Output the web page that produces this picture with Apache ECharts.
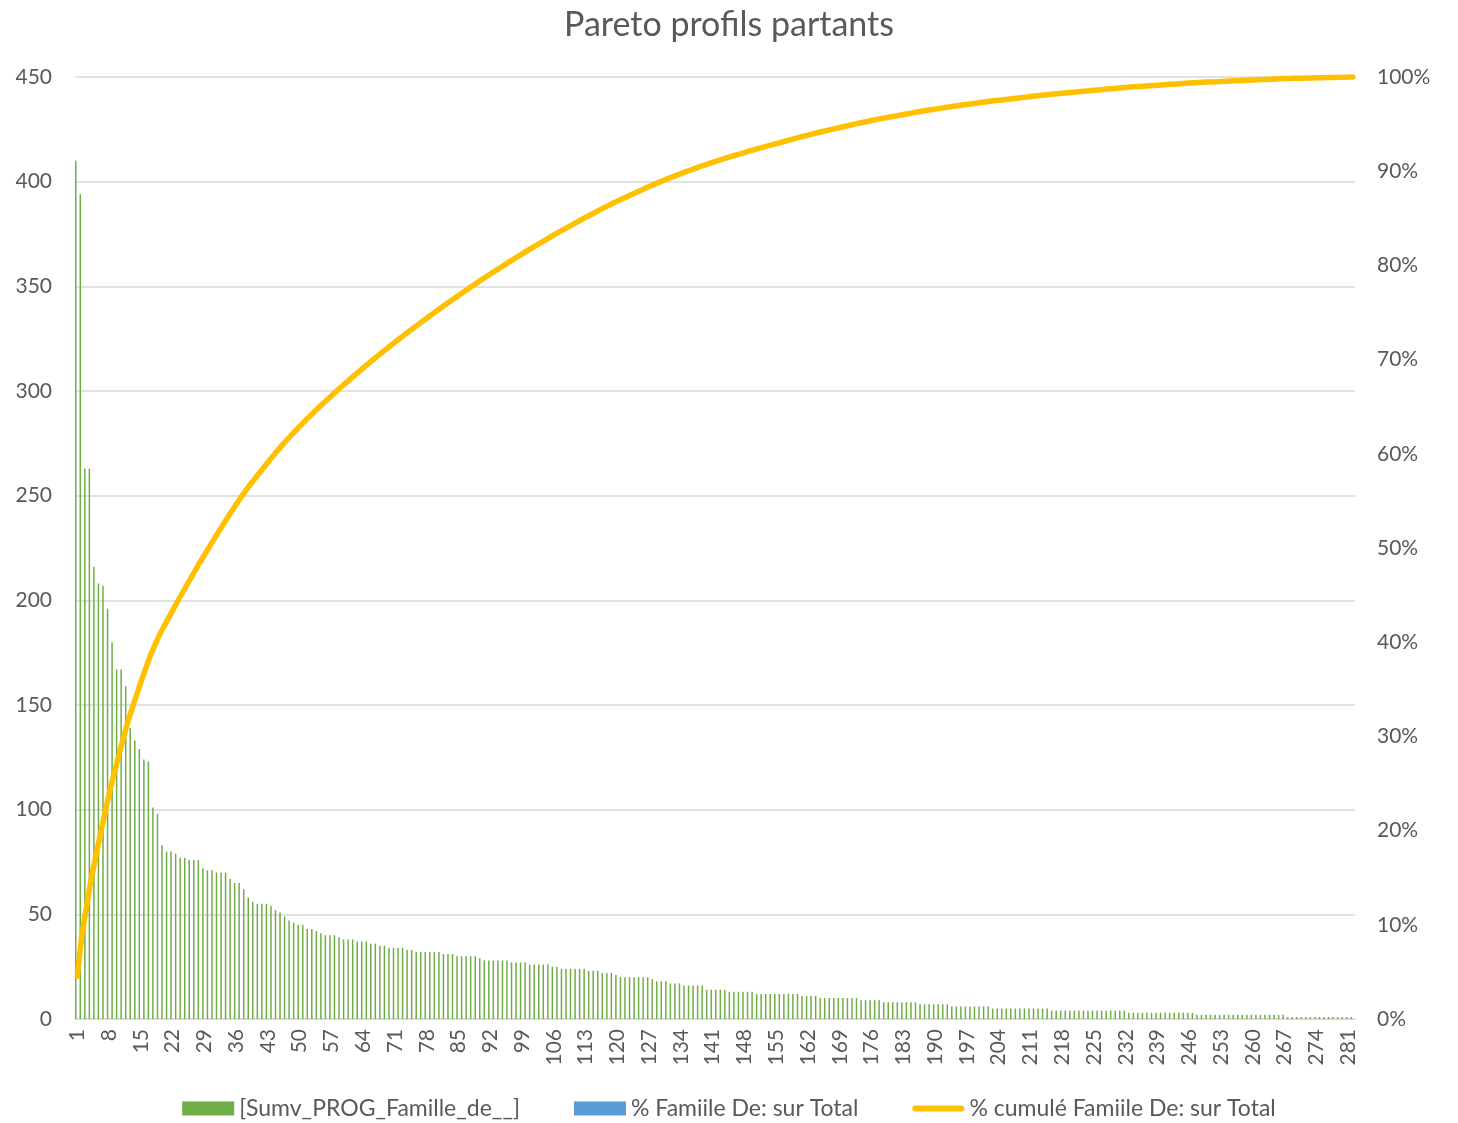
<!DOCTYPE html>
<html>
<head>
<meta charset="utf-8">
<title>Pareto profils partants</title>
<script src="https://cdn.jsdelivr.net/npm/echarts@6/dist/echarts.min.js"></script>
<style>
    html, body { margin: 0; padding: 0; background: #fff; }
    #chart { width: 1458px; height: 1123px; }
</style>
</head>
<body>
<div id="chart"></div>
<script>
// number of profiles (one bar each)
var sumProg = [
    410, 394, 263, 263, 216, 208, 207, 196, 180, 167, 167, 159, 139, 133, 129, 124, 123,
    101, 98, 83, 80, 80, 79, 77, 77, 76, 76, 76, 72, 71, 71, 70, 70, 70, 67, 65, 65, 62, 58, 56, 55,
    55, 55, 54, 52, 51, 49, 47, 46, 45, 45, 43, 43, 42, 41, 40, 40, 40, 39, 38, 38,
    38, 37, 37, 37, 36, 36, 35, 35, 34, 34, 34, 34, 33, 33, 32, 32, 32, 32, 32, 32,
    31, 31, 31, 30, 30, 30, 30, 30, 29, 28, 28, 28, 28,
    28, 28, 27, 27, 27, 27,
    26, 26, 26, 26, 26, 25, 25,
    24, 24, 24, 24, 24, 24, 23, 23, 23,
    22, 22, 22, 21,
    20, 20, 20, 20, 20, 20, 20, 19,
    18, 18, 18, 17, 17, 17,
    16, 16, 16, 16, 16, 14, 14, 14, 14, 14,
    13, 13, 13, 13, 13, 13,
    12, 12, 12, 12, 12, 12, 12, 12, 12, 12,
    11, 11, 11, 11,
    10, 10, 10, 10, 10, 10, 10, 10, 10,
    9, 9, 9, 9, 9,
    8, 8, 8, 8, 8, 8, 8, 8,
    7, 7, 7, 7, 7, 7, 7,
    6, 6, 6, 6, 6, 6, 6, 6, 6,
    5, 5, 5, 5, 5, 5, 5, 5, 5, 5, 5, 5, 5,
    4, 4, 4, 4, 4, 4, 4, 4, 4, 4, 4, 4, 4, 4, 4, 4, 4,
    3, 3, 3, 3, 3, 3, 3, 3, 3, 3, 3, 3, 3, 3, 3,
    2, 2, 2, 2, 2, 2, 2, 2, 2, 2, 2, 2, 2, 2, 2, 2, 2, 2, 2, 2,
    1, 1, 1, 1, 1, 1, 1, 1, 1, 1, 1, 1, 1, 1, 1
]

var categories = sumProg.map(function (v, i) { return String(i + 1) })

var leftTicks = { min: 0, max: 450, interval: 50 }
var rightTicks = { min: 0, max: 1, interval: 0.1 }

var seriesNames = ['[Sumv_PROG_Famille_de__]', '% Famiile De: sur Total', '% cumulé Famiile De: sur Total']

// pareto: share of total and running share
var total = sumProg.reduce(function (a, b) { return a + b }, 0)
var pctOfTotal = sumProg.map(function (v) { return v / total })
var cumulPct = []
var running = 0
sumProg.forEach(function (v) {
    running += v
    cumulPct.push(running / total)
})

var font = 'Lato, "Open Sans", sans-serif'
var grey = '#595959'

var myChart = echarts.init(document.getElementById('chart'))
var option = {
    animation: false,
    textStyle: { fontFamily: font },
    title: {
        text: 'Pareto profils partants',
        left: 'center',
        top: 3,
        textStyle: { fontFamily: font, fontSize: 34, fontWeight: 'normal', color: grey }
    },
    legend: {
        left: 'center',
        top: 1092,
        itemWidth: 52,
        itemHeight: 14,
        itemGap: 54,
        textStyle: { fontFamily: font, fontSize: 23, color: grey },
        data: [
            { name: seriesNames[0], icon: 'rect' },
            { name: seriesNames[1], icon: 'rect' },
            { name: seriesNames[2], icon: 'path://M3,0 L49,0 A3,3 0 0 1 49,6 L3,6 A3,3 0 0 1 3,0 Z' }
        ]
    },
    grid: { left: 75, right: 103, top: 77, bottom: 104, containLabel: false },
    xAxis: {
        type: 'category',
        data: categories,
        boundaryGap: true,
        axisLine: { show: true, lineStyle: { color: '#D9D9D9', width: 1.5 } },
        axisTick: { show: false },
        axisLabel: {
            interval: 6,
            rotate: 90,
            margin: 10,
            fontSize: 21,
            color: grey,
            fontFamily: font
        }
    },
    yAxis: [
        {
            type: 'value',
            min: leftTicks.min,
            max: leftTicks.max,
            interval: leftTicks.interval,
            axisLine: { show: false },
            axisTick: { show: false },
            splitLine: { lineStyle: { color: '#D9D9D9', width: 1.5 } },
            axisLabel: { fontSize: 21, color: grey, margin: 23, fontFamily: font }
        },
        {
            type: 'value',
            min: rightTicks.min,
            max: rightTicks.max,
            interval: rightTicks.interval,
            axisLine: { show: false },
            axisTick: { show: false },
            splitLine: { show: false },
            axisLabel: {
                fontSize: 21,
                color: grey,
                margin: 22,
                fontFamily: font,
                formatter: function (v) { return Math.round(v * 100) + '%' }
            }
        }
    ],
    series: [
        {
            name: seriesNames[0],
            type: 'bar',
            yAxisIndex: 0,
            barWidth: 1.5,
            barGap: '100%',
            itemStyle: { color: '#70AD47' },
            data: sumProg
        },
        {
            name: seriesNames[1],
            type: 'bar',
            yAxisIndex: 0,
            barWidth: 1.5,
            itemStyle: { color: '#5B9BD5' },
            data: pctOfTotal
        },
        {
            name: seriesNames[2],
            type: 'line',
            yAxisIndex: 1,
            showSymbol: false,
            symbol: 'none',
            smooth: false,
            lineStyle: { color: '#FFC000', width: 5.5, cap: 'round', join: 'round' },
            itemStyle: { color: '#FFC000' },
            data: cumulPct,
            z: 5
        }
    ]
}
myChart.setOption(option)
</script>
</body>
</html>
